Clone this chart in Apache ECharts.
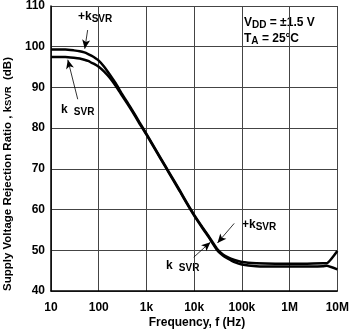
<!DOCTYPE html>
<html><head><meta charset="utf-8">
<script src="https://cdn.jsdelivr.net/npm/echarts@6/dist/echarts.min.js"></script>
<style>html,body{margin:0;padding:0;background:#fff}#c{width:352px;height:331px}</style>
</head><body><div id="c"></div>
<script>
// Frequency (Hz)
const freq = [10, 20, 30, 40, 50, 60, 70, 80, 100, 130, 170, 230, 300, 400, 500, 700, 1000, 2000, 3000, 5000, 7000, 10000, 15000, 20000, 30000, 40000, 50000, 70000, 100000, 200000, 500000, 1e6, 2e6, 5e6, 6e6, 1e7];
// +kSVR (dB)
const kPlus = [99.3, 99.3, 99.1, 98.9, 98.6, 98.2, 97.8, 97.4, 96.6, 95.1, 93.2, 90.9, 88.6, 86.3, 84.5, 81.6, 78.6, 72.6, 69.1, 64.7, 61.7, 58.7, 55.6, 53.5, 50.4, 49.0, 48.3, 47.6, 47.1, 46.8, 46.7, 46.7, 46.7, 46.8, 46.8, 49.8];
// -kSVR (dB)
const kMinus = [97.5, 97.5, 97.3, 97.1, 96.8, 96.5, 96.1, 95.8, 95.1, 93.9, 92.4, 90.3, 88.2, 86.0, 84.2, 81.3, 78.4, 72.4, 68.9, 64.5, 61.5, 58.5, 55.4, 53.3, 50.1, 48.7, 48.0, 47.1, 46.5, 46.1, 46.0, 46.0, 46.0, 46.1, 46.2, 45.3];
const xTickLabels = {10:'10',100:'100',1000:'1k',10000:'10k',100000:'100k',1000000:'1M',10000000:'10M'};
const yMin = 40, yMax = 110, yStep = 10;
// annotation arrows [from, to] in data coords
const arrows = [
  [[58.6, 104.1], [51, 99.5]],
  [[36.3, 87.1], [22.5, 96.8]],
  [[69000, 56.6], [30800, 51.8]],
  [[9800, 48.3], [21900, 52.0]]
];

const FONT = 'Liberation Sans, Arial, Helvetica, sans-serif';
const chart = echarts.init(document.getElementById('c'));
const pair = a => freq.map((f, i) => [f, a[i]]);
const rich = {
  a: {fontSize: 12, fontWeight: 'bold', fontFamily: FONT, color: '#000'},
  s: {fontSize: 10, fontWeight: 'bold', fontFamily: FONT, color: '#000', padding: [5, 0, 0, 0]}
};
function txt(x, y, t, extra) {
  return Object.assign({type: 'text', x: x, y: y, style: {text: t, rich: rich, fill: '#000', font: 'bold 12px ' + FONT, textVerticalAlign: 'middle'}}, extra || {});
}
chart.setOption({
  animation: false,
  grid: {left: 51, right: 12, top: 4, bottom: 40, containLabel: false},
  xAxis: {
    type: 'log', logBase: 10, min: 10, max: 1e7,
    axisLine: {lineStyle: {color: '#000', width: 1.5}},
    axisTick: {show: false}, minorTick: {show: false},
    splitLine: {show: true, lineStyle: {color: '#444', width: 1}},
    axisLabel: {formatter: v => xTickLabels[Math.round(v)] || '', color: '#000', fontWeight: 'bold', fontSize: 12, fontFamily: FONT, margin: 11}
  },
  yAxis: {
    type: 'value', min: yMin, max: yMax, interval: yStep,
    axisLine: {show: true, lineStyle: {color: '#000', width: 1.5}},
    axisTick: {show: false},
    splitLine: {show: true, lineStyle: {color: '#444', width: 1}},
    axisLabel: {color: '#000', fontWeight: 'bold', fontSize: 12, fontFamily: FONT, margin: 6}
  },
  series: [
    {type: 'line', data: pair(kPlus), smooth: 0.15, showSymbol: false, lineStyle: {color: '#000', width: 2.5},
     markLine: {silent: true, symbol: ['none', 'arrow'], symbolSize: [6, 9], label: {show: false},
       lineStyle: {color: '#000', width: 0.8, type: 'solid'},
       data: arrows.map(a => [{coord: a[0]}, {coord: a[1]}])}},
    {type: 'line', data: pair(kMinus), smooth: 0.15, showSymbol: false, lineStyle: {color: '#000', width: 2.5}}
  ],
  graphic: [
    txt(78, 17, '{a|+k}{s|SVR}'),
    txt(61, 110, '{a|k }{s| SVR}'),
    txt(242, 225, '{a|+k}{s|SVR}'),
    txt(166, 266, '{a|k }{s| SVR}'),
    txt(244, 23, '{a|V}{s|DD}{a| = ±1.5 V}'),
    txt(244, 39, '{a|T}{s|A}{a| = 25°C}'),
    {type: 'text', x: 197, y: 323, style: {text: 'Frequency, f (Hz)', fill: '#000', font: 'bold 12px ' + FONT, textAlign: 'center', textVerticalAlign: 'middle'}},
    {type: 'text', x: 8, y: 174, rotation: Math.PI / 2, style: {text: '{a|Supply Voltage Rejection Ratio , k}{s|SVR}{a|  (dB)}', rich: {
      a: {fontSize: 11.5, fontWeight: 'bold', fontFamily: FONT, color: '#000'},
      s: {fontSize: 9.5, fontWeight: 'bold', fontFamily: FONT, color: '#000', padding: [0, 0, 0, 0]}}, textAlign: 'center', textVerticalAlign: 'middle'}}
  ]
});
</script></body></html>
